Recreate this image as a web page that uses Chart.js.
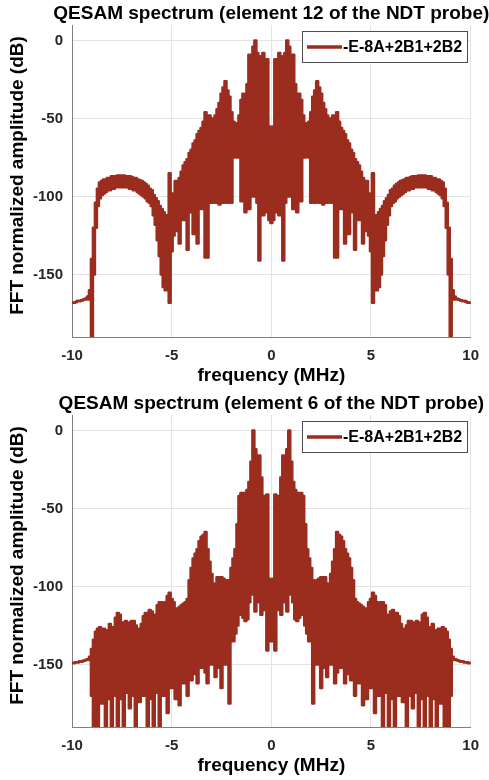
<!DOCTYPE html>
<html>
<head>
<meta charset="utf-8">
<title>QESAM spectrum</title>
<script src="https://cdn.jsdelivr.net/npm/chart.js@4.4.1/dist/chart.umd.min.js"></script>
<style>
  html, body { margin: 0; padding: 0; background: #fff; }
  .panel { position: relative; width: 489px; height: 390px; }
</style>
</head>
<body>
<div class="panel"><canvas id="el12"></canvas></div>
<div class="panel"><canvas id="el6"></canvas></div>
<script>
// frequency grid of the left half (MHz); the spectrum is symmetric about 0 MHz,
// the right half is the mirror image of these values
const freqHalf = [
  -10.0, -9.9, -9.8, -9.7, -9.6, -9.5, -9.4, -9.3, -9.2, -9.1,
  -9.0, -8.9, -8.8, -8.7, -8.6, -8.5, -8.4, -8.3, -8.2, -8.1,
  -8.0, -7.9, -7.8, -7.7, -7.6, -7.5, -7.4, -7.3, -7.2, -7.1,
  -7.0, -6.9, -6.8, -6.7, -6.6, -6.5, -6.4, -6.3, -6.2, -6.1,
  -6.0, -5.9, -5.8, -5.7, -5.6, -5.5, -5.4, -5.3, -5.2, -5.1,
  -5.0, -4.9, -4.8, -4.7, -4.6, -4.5, -4.4, -4.3, -4.2, -4.1,
  -4.0, -3.9, -3.8, -3.7, -3.6, -3.5, -3.4, -3.3, -3.2, -3.1,
  -3.0, -2.9, -2.8, -2.7, -2.6, -2.5, -2.4, -2.3, -2.2, -2.1,
  -2.0, -1.9, -1.8, -1.7, -1.6, -1.5, -1.4, -1.3, -1.2, -1.1,
  -1.0, -0.9, -0.8, -0.7, -0.6, -0.5, -0.4, -0.3, -0.2, -0.1,
  0.0
];

// element 12: upper and lower edge of the dense FFT trace (dB)
const el12Upper = [
  -168, -168, -167.5, -167, -167, -166.5, -166, -165.5, -164, -160,
  -140, -120, -104, -95, -91, -90, -89, -89, -88, -88,
  -87, -87, -87, -86.5, -86.5, -86.5, -86.5, -87, -87, -87,
  -87.5, -88, -88, -89, -89.5, -90, -91, -92, -93, -95,
  -96, -99, -101, -103, -106, -108, -110, -112, -112, -85,
  -98, -100, -90, -92, -88, -84, -80, -78, -76, -72,
  -70, -66, -64, -60, -58, -56, -52, -46, -58, -48,
  -52, -50, -48, -44, -40, -34, -30, -26, -32, -36,
  -46, -52, -54, -53, -48, -38, -34, -40, -28, -9,
  -12, -4, 0, -8, -10, -12, -8, -13, -12, -55,
  -60
];
const el12Lower = [
  -168, -168, -167.5, -167, -167, -166.5, -166, -165.5, -166, -166,
  -200, -150, -120, -106, -101, -99, -98, -97, -96, -96,
  -95, -95, -94, -94, -94, -94, -94, -94, -94, -95,
  -95, -96, -96, -97, -98, -99, -100, -101, -103, -104,
  -106, -112, -118, -128, -138, -150, -158, -160, -160, -168,
  -135, -125, -122, -112, -130, -110, -115, -108, -134, -106,
  -110, -124, -104, -130, -100, -108, -104, -139, -139, -98,
  -104, -95, -104, -92, -105, -100, -104, -96, -104, -92,
  -104, -75, -62, -75, -66, -103, -92, -110, -96, -108,
  -88, -100, -90, -104, -141, -100, -112, -96, -110, -115,
  -117
];

// element 6: upper and lower edge of the dense FFT trace (dB)
const el6Upper = [
  -149, -149, -148.5, -148.5, -148, -148, -147.5, -147, -146.5, -145,
  -140, -134, -129, -127, -126, -127, -127, -128, -129, -124,
  -126, -128, -120, -117, -118, -123, -125, -122, -123, -124,
  -122, -122, -125, -128, -127, -124, -119, -117, -117, -115,
  -116, -120, -118, -112, -110, -110, -112, -110, -106, -104,
  -108, -110, -114, -115, -113, -112, -111, -110, -108, -96,
  -88, -82, -79, -76, -71, -68, -67, -65, -76, -84,
  -92, -99, -98, -94, -94, -94, -95, -96, -97, -96,
  -88, -82, -76, -60, -42, -40, -40, -40, -38, -33,
  -20, 0, -12, -22, -16, -30, -42, -42, -41, -95,
  -100
];
const el6Lower = [
  -149, -149, -148.5, -148.5, -148, -148, -147.5, -147, -146.5, -147,
  -170, -190, -166, -190, -168, -175, -165, -190, -167, -172,
  -190, -165, -170, -190, -166, -172, -190, -165, -168, -178,
  -164, -170, -190, -165, -174, -163, -170, -166, -190, -164,
  -172, -190, -163, -168, -190, -162, -170, -160, -181, -158,
  -165, -156, -172, -155, -176, -154, -162, -152, -170, -152,
  -160, -150, -156, -162, -148, -152, -145, -155, -162, -148,
  -150, -146, -158, -148, -152, -165, -146, -150, -145, -175,
  -132, -135, -130, -125, -118, -118, -120, -122, -121, -110,
  -100, -105, -116, -108, -110, -118, -105, -115, -141, -130,
  -135
];

const xTicks = [-10, -5, 0, 5, 10];
const yTicks = [-150, -100, -50, 0];
const seriesName = '-E-8A+2B1+2B2';
const yLabel = 'FFT normalized amplitude (dB)';
const traceColor = '#9b2d1e';
const fontFamily = '"Liberation Sans", Arial, sans-serif';

const mirror = (vals) => {
  const pts = freqHalf.map((f, i) => ({ x: f, y: vals[i] }));
  for (let i = freqHalf.length - 2; i >= 0; i--) {
    pts.push({ x: -freqHalf[i], y: vals[i] });
  }
  return pts;
};

Chart.defaults.font.family = fontFamily;
Chart.defaults.color = '#262626';

// title, y label and the boxed legend in the upper right corner
const decor = {
  id: 'decor',
  afterDraw(chart, args, opts) {
    const { ctx, chartArea } = chart;
    ctx.save();
    ctx.fillStyle = '#000';
    ctx.font = 'bold 19px ' + fontFamily;
    ctx.textAlign = 'center';
    ctx.textBaseline = 'alphabetic';
    ctx.fillText(opts.title, (chartArea.left + chartArea.right) / 2, 19);

    ctx.save();
    ctx.translate(18, 175.5);
    ctx.rotate(-Math.PI / 2);
    ctx.textBaseline = 'middle';
    ctx.fillText(yLabel, 0, 0);
    ctx.restore();

    const bx = 302, by = 31, bw = 165, bh = 31;
    ctx.fillStyle = '#fff';
    ctx.fillRect(bx, by, bw, bh);
    ctx.strokeStyle = '#4d4d4d';
    ctx.lineWidth = 1;
    ctx.strokeRect(bx + 0.5, by + 0.5, bw, bh);
    ctx.strokeStyle = traceColor;
    ctx.lineWidth = 3.5;
    ctx.beginPath();
    ctx.moveTo(bx + 5, by + bh / 2 + 0.5);
    ctx.lineTo(bx + 40, by + bh / 2 + 0.5);
    ctx.stroke();
    ctx.fillStyle = '#000';
    ctx.font = 'bold 16px ' + fontFamily;
    ctx.textAlign = 'left';
    ctx.textBaseline = 'middle';
    ctx.fillText(seriesName, bx + 41, by + bh / 2 + 1);
    ctx.restore();
  }
};

const makeChart = (id, title, upper, lower) => {
  const lineStyle = {
    borderColor: traceColor,
    backgroundColor: traceColor,
    borderWidth: 2.5,
    borderJoinStyle: 'round',
    borderCapStyle: 'round',
    pointRadius: 0,
    stepped: 'middle',
    clip: 0
  };
  return new Chart(document.getElementById(id), {
    type: 'line',
    data: {
      datasets: [
        { label: seriesName, data: mirror(upper), fill: '+1', ...lineStyle },
        { label: seriesName + ' (lower)', data: mirror(lower), fill: false, ...lineStyle }
      ]
    },
    options: {
      responsive: true,
      maintainAspectRatio: false,
      animation: false,
      events: [],
      layout: { padding: { top: 25, right: 14, left: 0, bottom: 0 } },
      plugins: {
        legend: { display: false },
        tooltip: { enabled: false },
        decor: { title: title }
      },
      scales: {
        x: {
          type: 'linear',
          min: -10,
          max: 10,
          afterBuildTicks: (s) => { s.ticks = xTicks.map(v => ({ value: v })); },
          afterFit: (s) => { s.height = 53; },
          grid: { color: '#e3e3e3', drawTicks: false },
          border: { color: '#7f7f7f' },
          ticks: { padding: 10, font: { size: 15, weight: 'bold' }, color: '#262626' },
          title: {
            display: true,
            text: 'frequency (MHz)',
            font: { size: 19, weight: 'bold' },
            color: '#000',
            padding: { top: 0, bottom: 3 }
          }
        },
        y: {
          min: -190,
          max: 10,
          afterBuildTicks: (s) => { s.ticks = yTicks.map(v => ({ value: v })); },
          afterFit: (s) => { s.width = 72; },
          grid: { color: '#e3e3e3', drawTicks: false },
          border: { color: '#7f7f7f' },
          ticks: { padding: 9, font: { size: 15, weight: 'bold' }, color: '#262626' }
        }
      }
    },
    plugins: [decor]
  });
};

makeChart('el12', 'QESAM spectrum (element 12 of the NDT probe)', el12Upper, el12Lower);
makeChart('el6', 'QESAM spectrum (element 6 of the NDT probe)', el6Upper, el6Lower);
</script>
</body>
</html>
